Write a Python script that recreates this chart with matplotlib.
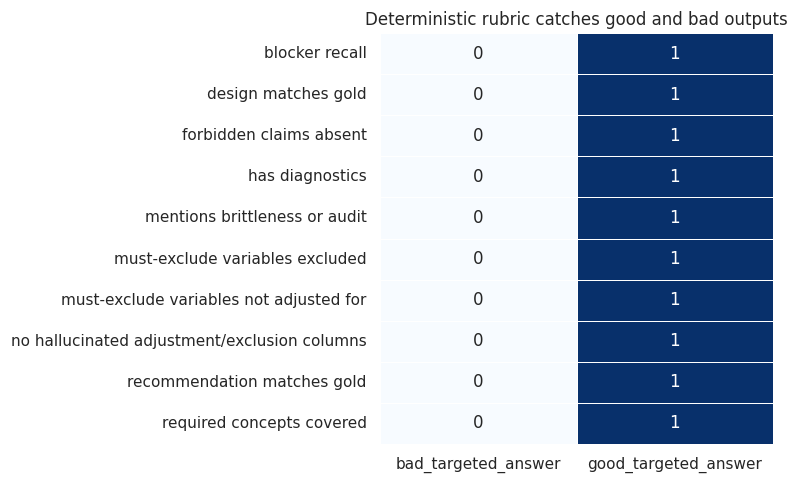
import numpy as np
import pandas as pd
import matplotlib
matplotlib.use("Agg")
import matplotlib.pyplot as plt
import seaborn as sns

# rubric checks (rows) and answers (columns)
checks = [
    "blocker recall",
    "design matches gold",
    "forbidden claims absent",
    "has diagnostics",
    "mentions brittleness or audit",
    "must-exclude variables excluded",
    "must-exclude variables not adjusted for",
    "no hallucinated adjustment/exclusion columns",
    "recommendation matches gold",
    "required concepts covered",
]
answers = ["bad_targeted_answer", "good_targeted_answer"]
bad_scores = [0, 0, 0, 0, 0, 0, 0, 0, 0, 0]
good_scores = [1, 1, 1, 1, 1, 1, 1, 1, 1, 1]

sns.set_theme(style="white")

df = pd.DataFrame({answers[0]: bad_scores, answers[1]: good_scores}, index=checks)

fig, ax = plt.subplots(figsize=(7.97, 4.84), dpi=100)
sns.heatmap(df, annot=True, fmt="d", cmap="Blues", cbar=False,
            linewidths=0.5, linecolor="white", ax=ax)
ax.set_title("Deterministic rubric catches good and bad outputs")
ax.set_xlabel("")
ax.set_ylabel("")
plt.yticks(rotation=0)
fig.subplots_adjust(left=0.4768, right=0.9699, top=0.9318, bottom=0.0826)
plt.savefig("out.png", dpi=100)
